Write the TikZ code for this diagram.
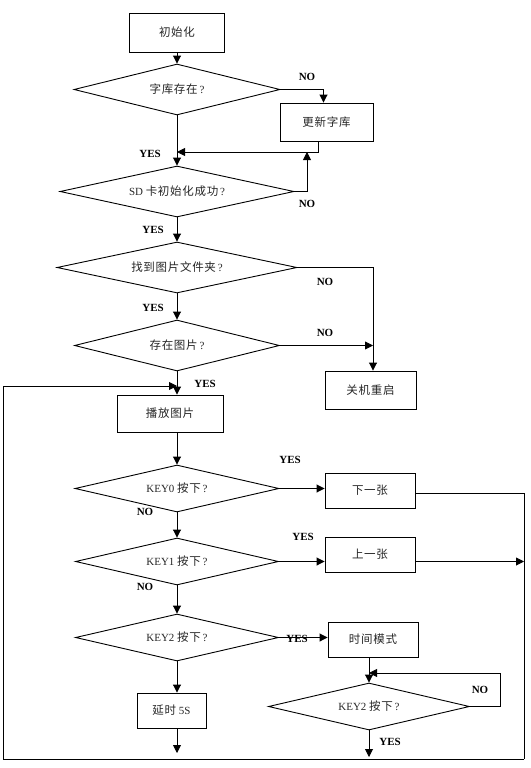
\documentclass[tikz,border=0pt]{standalone}
\usepackage{fontspec}
\setmainfont{Liberation Serif}
\newfontfamily\cjk[Scale=1.05,LetterSpace=6]{Noto Sans CJK SC}
\newcommand\zhs[1]{{\cjk #1}}
\usetikzlibrary{shapes.geometric,arrows.meta}
\begin{document}
\begin{tikzpicture}[x=1bp,y=-1bp,
  line width=0.9bp,
  txt/.style={font=\fontsize{11}{12}\selectfont, text=black!85},
  box/.style={draw, rectangle, inner sep=0pt, txt},
  dia/.style={draw, diamond, aspect=4, inner sep=0pt, txt},
  lbl/.style={font=\bfseries\fontsize{11}{12}\selectfont, inner sep=0pt},
  arr/.style={-{Triangle[length=8bp,width=8bp]}}]
\useasboundingbox (0,0) rectangle (531,768);

% nodes
\node[box, minimum width=95bp, minimum height=39bp] (init) at (177,32.5) {\zhs{初始化}};
\node[dia, minimum width=206bp, minimum height=51bp] (d1) at (177,89.5) {\zhs{字库存在}\,?};
\node[box, minimum width=93bp, minimum height=38bp] (upd) at (326.5,122) {\zhs{更新字库}};
\node[dia, minimum width=234bp, minimum height=51bp] (sd) at (177,191.5) {SD \zhs{卡初始化成功}\,?};
\node[dia, minimum width=240bp, minimum height=51bp] (d3) at (177,267.5) {\zhs{找到图片文件夹}\,?};
\node[dia, minimum width=205bp, minimum height=51bp] (d4) at (177,345.5) {\zhs{存在图片}\,?};
\node[box, minimum width=91bp, minimum height=38bp] (off) at (370.5,390) {\zhs{关机重启}};
\node[box, minimum width=106bp, minimum height=37bp] (play) at (170,413.5) {\zhs{播放图片}};
\node[dia, minimum width=204bp, minimum height=47bp] (k0) at (177,488.5) {KEY0 \zhs{按下}\,?};
\node[box, minimum width=90bp, minimum height=35bp] (next) at (370,490.5) {\zhs{下一张}};
\node[dia, minimum width=203bp, minimum height=47bp] (k1) at (177,561.5) {KEY1 \zhs{按下}\,?};
\node[box, minimum width=90bp, minimum height=35bp] (prev) at (370,554.5) {\zhs{上一张}};
\node[dia, minimum width=203bp, minimum height=47bp] (k2) at (177,637.5) {KEY2 \zhs{按下}\,?};
\node[box, minimum width=90bp, minimum height=35bp] (tm) at (373,639.5) {\zhs{时间模式}};
\node[dia, minimum width=201bp, minimum height=47bp] (k2b) at (369,706.5) {KEY2 \zhs{按下}\,?};
\node[box, minimum width=69bp, minimum height=35bp] (delay) at (171.5,710.5) {\zhs{延时} 5S};

% coordinates
\coordinate (j1) at (177,152);
\coordinate (j2) at (307,152);
\coordinate (j3) at (373,345.5);
\coordinate (lp) at (177,386);
\coordinate (rb) at (524,759);
\coordinate (lb) at (3,759);
\coordinate (nr) at (500,673);
\coordinate (j4) at (369,673);
\coordinate (e1) at (177,753);
\coordinate (e2) at (369,757);

% connectors
\draw[arr] (init) -- (d1);
\draw[arr] (d1.east) -| ([xshift=-3bp]upd.north);
\draw[arr] ([xshift=-8bp]upd.south) |- (j1);
\draw[arr] (d1) -- (sd);
\draw[arr] (sd.east) -| (j2);
\draw[arr] (sd) -- (d3);
\draw[arr] (d3.east) -| ([xshift=2.5bp]off.north);
\draw[arr] (d3) -- (d4);
\draw[arr] (d4.east) -- (j3);
\draw[arr] (d4.south) -- (d4.south |- play.north);
\draw[arr] (play.south -| k0.north) -- (k0.north);
\draw[arr] (k0.east) -- (k0.east -| next.west);
\draw ([yshift=-3bp]next.east) -| (rb);
\draw[arr] (k0) -- (k1);
\draw[arr] (k1.east) -- (k1.east -| prev.west);
\draw[arr] (k1.east -| prev.east) -- (k1.east -| rb);
\draw[arr] (k1) -- (k2);
\draw[arr] (k2.east) -- (k2.east -| tm.west);
\draw[arr] (tm.south -| k2b.north) -- (k2b.north);
\draw[arr] (k2b.east) -| (nr) -- (j4);
\draw[arr] (k2b.south) -- (e2);
\draw[arr] (k2.south) -- (k2.south |- delay.north);
\draw[arr] (delay.south -| k2.south) -- (e1);
\draw[arr] (rb) -- (lb) |- (lp);

% labels
\node[lbl] (n1) at (307,77) {NO};
\node[lbl] (y1) at (150,154) {YES};
\node[lbl] (n2) at (307,204) {NO};
\node[lbl] (y2) at (153,230) {YES};
\node[lbl] (n3) at (325,282) {NO};
\node[lbl] (y3) at (153,308) {YES};
\node[lbl] (n4) at (325,333) {NO};
\node[lbl] (y4) at (205,384) {YES};
\node[lbl] (y5) at (290,460) {YES};
\node[lbl] (n5) at (145,512) {NO};
\node[lbl] (y6) at (303,537) {YES};
\node[lbl] (n6) at (145,587) {NO};
\node[lbl] (y7) at (297,639) {YES};
\node[lbl] (n7) at (480,690) {NO};
\node[lbl] (y8) at (390,742) {YES};
\end{tikzpicture}
\end{document}
